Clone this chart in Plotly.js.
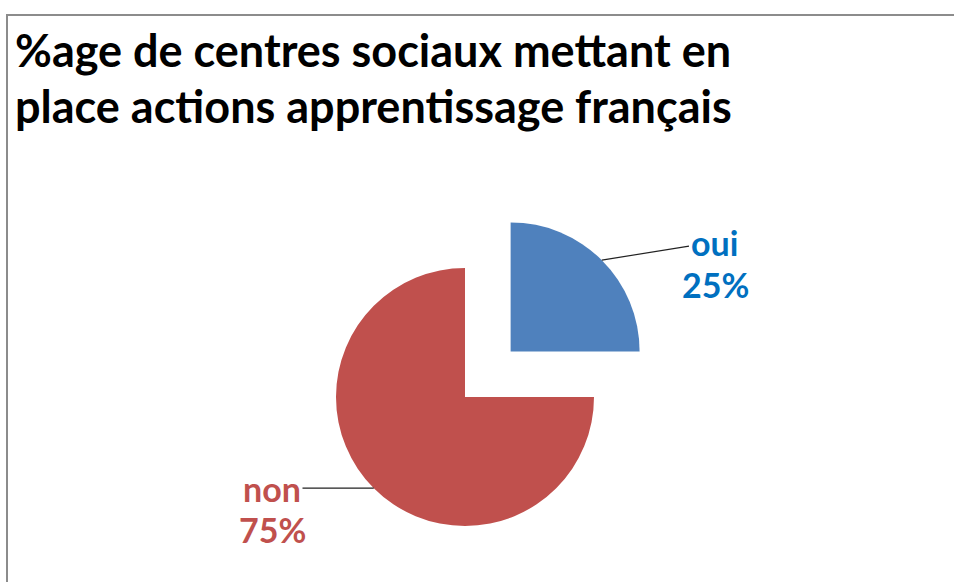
<!DOCTYPE html>
<html>
<head>
<meta charset="utf-8">
<script src="https://cdn.plot.ly/plotly-3.0.1.min.js"></script>
<style>
html, body { margin: 0; padding: 0; width: 954px; height: 582px; overflow: hidden; background: #fff; }
#wrap { width: 954px; height: 582px; overflow: hidden; position: relative; }
#chart { width: 954px; height: 600px; }
</style>
</head>
<body>
<div id="wrap"><div id="chart"></div></div>
<script>
// ---- data ----
const labels = ["oui", "non"];
const values = [25, 75];
const sliceColors = ["#4F81BD", "#C0504D"];
const labelColors = ["#0070C0", "#C0504D"];
const pulls = [0.5, 0];
const titleLines = ["%age de centres sociaux mettant en", "place actions apprentissage français"];

// ---- layout geometry (pixels) ----
const W = 954, H = 600;
const cx = 465, cy = 397;          // pie centre
const maxPull = Math.max(...pulls);
const r = 129;                      // slice radius
const half = r * (1 + maxPull);     // half box size needed by plotly
const domX = [(cx - half) / W, (cx + half) / W];
const domY = [1 - (cy + half) / H, 1 - (cy - half) / H];

const total = values.reduce((a, b) => a + b, 0);
const pct = values.map(v => Math.round(v / total * 100) + "%");

// leader-line anchor points on slice arc (mid-angle, clockwise from 12 o'clock)
let start = 0;
const anchors = values.map((v, i) => {
  const mid = (start + v / 2) / total * 2 * Math.PI;
  start += v;
  const off = pulls[i] * r;
  return [cx + Math.sin(mid) * (r + off), cy - Math.cos(mid) * (r + off)];
});
// label text centres (pixels)
const labelPos = [[714, 242], [272, 488]];
const pctPos = [[715, 284], [272, 529]];
const titleCentres = [50, 106];

const font = "Lato, 'Open Sans', sans-serif";
const annotations = [];
titleLines.forEach((t, i) => {
  annotations.push({
    xref: "paper", yref: "paper",
    x: 13 / W, y: 1 - titleCentres[i] / H,
    xanchor: "left", yanchor: "middle",
    text: "<b>" + t + "</b>", showarrow: false,
    font: { family: font, size: 45, color: "#000" }
  });
});
labels.forEach((lab, i) => {
  const [ax0, ay0] = anchors[i];
  const [lx, ly] = labelPos[i];
  annotations.push({
    xref: "paper", yref: "paper",
    x: ax0 / W, y: 1 - ay0 / H,
    ax: lx - ax0, ay: ly - ay0,
    text: "<b>" + lab + "</b>",
    showarrow: true, arrowhead: 0, arrowwidth: 1.2, arrowcolor: "#222",
    font: { family: font, size: 34, color: labelColors[i] }
  });
  annotations.push({
    xref: "paper", yref: "paper",
    x: pctPos[i][0] / W, y: 1 - pctPos[i][1] / H,
    xanchor: "center", yanchor: "middle",
    text: "<b>" + pct[i] + "</b>", showarrow: false,
    font: { family: font, size: 34, color: labelColors[i] }
  });
});

const trace = {
  type: "pie",
  labels: labels,
  values: values,
  pull: pulls,
  sort: false,
  direction: "clockwise",
  rotation: 0,
  marker: { colors: sliceColors, line: { width: 0 } },
  textinfo: "none",
  hoverinfo: "label+percent",
  domain: { x: domX, y: domY },
  showlegend: false
};

const layout = {
  width: W, height: H,
  margin: { l: 0, r: 0, t: 0, b: 0 },
  paper_bgcolor: "#ffffff",
  annotations: annotations,
  shapes: [{
    type: "rect", xref: "paper", yref: "paper",
    x0: 7 / W, x1: 1.05, y0: -0.1, y1: 1 - 15 / H,
    line: { color: "#8c8c8c", width: 2 }, fillcolor: "rgba(0,0,0,0)"
  }]
};

Plotly.newPlot("chart", [trace], layout, { displayModeBar: false, staticPlot: true });
</script>
</body>
</html>
